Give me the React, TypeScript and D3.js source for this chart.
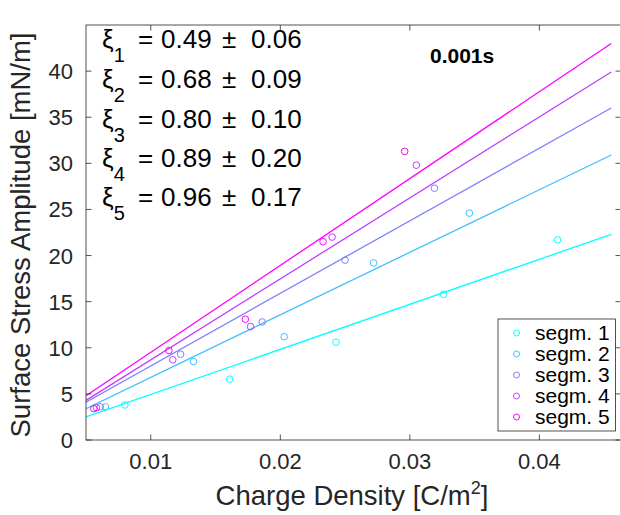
import React, { useEffect, useRef } from "react";
import * as d3 from "d3";

// legend names and colours (MATLAB "cool" colormap, 5 steps)
const segments = ["segm. 1", "segm. 2", "segm. 3", "segm. 4", "segm. 5"];
const colors = ["#00ffff", "#40bfff", "#8080ff", "#bf40ff", "#ff00ff"];

// fitted exponents shown in the top-left corner
const xiMean = ["0.49", "0.68", "0.80", "0.89", "0.96"];
const xiErr = ["0.06", "0.09", "0.10", "0.20", "0.17"];

// measured points, charge density [C/m^2] vs surface stress amplitude [mN/m]
const segm1Density = [0.008, 0.0161, 0.0243, 0.0326, 0.0414];
const segm1Stress = [3.8, 6.6, 10.6, 15.8, 21.7];
const segm2Density = [0.0065, 0.0133, 0.0203, 0.0272, 0.0346];
const segm2Stress = [3.6, 8.5, 11.2, 19.2, 24.6];
const segm3Density = [0.0061, 0.0123, 0.0186, 0.025, 0.0319];
const segm3Stress = [3.6, 9.3, 12.8, 19.5, 27.3];
const segm4Density = [0.0058, 0.0117, 0.0177, 0.024, 0.0305];
const segm4Stress = [3.5, 8.7, 12.3, 22.0, 29.8];
const segm5Density = [0.0056, 0.0114, 0.0173, 0.0233, 0.0296];
const segm5Stress = [3.4, 9.7, 13.1, 21.5, 31.3];

// fit lines: value at the start and end of the fitted range
const fitRange = [0.005, 0.04555];
const fitStart = [2.5, 3.4, 4.1, 4.3, 4.8];
const fitEnd = [22.3, 30.9, 36.0, 39.9, 43.0];

const yTicks = [0, 5, 10, 15, 20, 25, 30, 35, 40];
const xTicks = [0.01, 0.02, 0.03, 0.04];

export default function App() {
  const ref = useRef<SVGSVGElement>(null);

  useEffect(() => {
    draw();
  }, []);

  let draw = () => {
    const svg = d3.select(ref.current);
    svg.selectAll("*").remove();

    const left = 86;
    const right = 621;
    const top = 25;
    const bottom = 440;
    const axisColor = "#262626";
    const font = "'Liberation Sans', Arial, Helvetica, sans-serif";

    const x = d3.scaleLinear().domain([0.005, 0.0463]).range([left, right]);
    const y = d3.scaleLinear().domain([0, 45]).range([bottom, top]);

    svg
      .append("defs")
      .append("clipPath")
      .attr("id", "plotClip")
      .append("rect")
      .attr("x", left)
      .attr("y", top)
      .attr("width", right - left)
      .attr("height", bottom - top);

    const pointSets = [
      [segm1Density, segm1Stress],
      [segm2Density, segm2Stress],
      [segm3Density, segm3Stress],
      [segm4Density, segm4Stress],
      [segm5Density, segm5Stress],
    ];

    const plot = svg.append("g").attr("clip-path", "url(#plotClip)");

    const line = d3
      .line<number[]>()
      .x((d) => x(d[0]))
      .y((d) => y(d[1]));

    segments.forEach((s, i) => {
      plot
        .append("path")
        .attr(
          "d",
          line([
            [fitRange[0], fitStart[i]],
            [fitRange[1], fitEnd[i]],
          ])
        )
        .attr("fill", "none")
        .attr("stroke", colors[i])
        .attr("stroke-width", 1.3);
    });

    segments.forEach((s, i) => {
      const [xs, ys] = pointSets[i];
      plot
        .selectAll(null)
        .data(xs.map((v, j) => [v, ys[j]]))
        .enter()
        .append("circle")
        .attr("cx", (d) => x(d[0]))
        .attr("cy", (d) => y(d[1]))
        .attr("r", 3.3)
        .attr("fill", "none")
        .attr("stroke", colors[i])
        .attr("stroke-width", 1);
    });

    // axes box with inward ticks on all four sides
    const tickLen = 5.5;
    const axes = svg.append("g").attr("stroke", axisColor).attr("stroke-width", 0.8);
    axes
      .append("rect")
      .attr("x", left)
      .attr("y", top)
      .attr("width", right - left)
      .attr("height", bottom - top)
      .attr("fill", "none");

    xTicks.forEach((t) => {
      axes.append("line").attr("x1", x(t)).attr("x2", x(t)).attr("y1", bottom).attr("y2", bottom - tickLen);
      axes.append("line").attr("x1", x(t)).attr("x2", x(t)).attr("y1", top).attr("y2", top + tickLen);
    });
    yTicks.forEach((t) => {
      axes.append("line").attr("x1", left).attr("x2", left + tickLen).attr("y1", y(t)).attr("y2", y(t));
      axes.append("line").attr("x1", right).attr("x2", right - tickLen).attr("y1", y(t)).attr("y2", y(t));
    });

    const labels = svg.append("g").attr("font-family", font).attr("fill", axisColor);

    labels
      .selectAll(null)
      .data(xTicks)
      .enter()
      .append("text")
      .attr("x", (d) => x(d))
      .attr("y", 469)
      .attr("text-anchor", "middle")
      .attr("font-size", 22)
      .text((d) => d3.format(".2f")(d));

    labels
      .selectAll(null)
      .data(yTicks)
      .enter()
      .append("text")
      .attr("x", 73)
      .attr("y", (d) => y(d) + 8)
      .attr("text-anchor", "end")
      .attr("font-size", 22)
      .text((d) => d);

    const xLabel = labels
      .append("text")
      .attr("x", 352)
      .attr("y", 505)
      .attr("text-anchor", "middle")
      .attr("font-size", 27.5);
    xLabel.append("tspan").text("Charge Density [C/m");
    xLabel.append("tspan").attr("dy", -11).attr("font-size", 18).text("2");
    xLabel.append("tspan").attr("dy", 11).text("]");

    labels
      .append("text")
      .attr("transform", "translate(30, 235) rotate(-90)")
      .attr("text-anchor", "middle")
      .attr("font-size", 27.5)
      .text("Surface Stress Amplitude [mN/m]");

    // exponent annotations
    const notes = svg.append("g").attr("font-family", font).attr("fill", "#000").attr("font-size", 26);
    const baseY = [48, 88, 127.5, 167, 206];
    segments.forEach((s, i) => {
      const t = notes.append("text").attr("y", baseY[i]);
      t.append("tspan").attr("x", 102).text("ξ");
      t.append("tspan").attr("dy", 14).attr("font-size", 20).text(String(i + 1));
      t.append("tspan").attr("dy", -14).attr("x", 138).text("=");
      t.append("tspan").attr("x", 161).text(xiMean[i]);
      t.append("tspan").attr("x", 222).text("±");
      t.append("tspan").attr("x", 251).text(xiErr[i]);
    });

    notes
      .append("text")
      .attr("x", 430)
      .attr("y", 63)
      .attr("font-size", 21)
      .attr("font-weight", "bold")
      .text("0.001s");

    // legend
    const lg = svg.append("g").attr("font-family", font);
    lg.append("rect")
      .attr("x", 498)
      .attr("y", 319)
      .attr("width", 117.5)
      .attr("height", 112)
      .attr("fill", "#fff")
      .attr("stroke", axisColor)
      .attr("stroke-width", 0.8);
    segments.forEach((s, i) => {
      const cy = 333 + i * 21;
      lg.append("circle")
        .attr("cx", 516.5)
        .attr("cy", cy)
        .attr("r", 3)
        .attr("fill", "none")
        .attr("stroke", colors[i])
        .attr("stroke-width", 1);
      lg.append("text")
        .attr("x", 535)
        .attr("y", cy + 7)
        .attr("font-size", 21)
        .attr("fill", "#000")
        .text(s);
    });
  };

  return (
    <svg
      ref={ref}
      width={620}
      height={515}
      style={{ position: "absolute", left: 0, top: 0, background: "#fff" }}
    />
  );
}
